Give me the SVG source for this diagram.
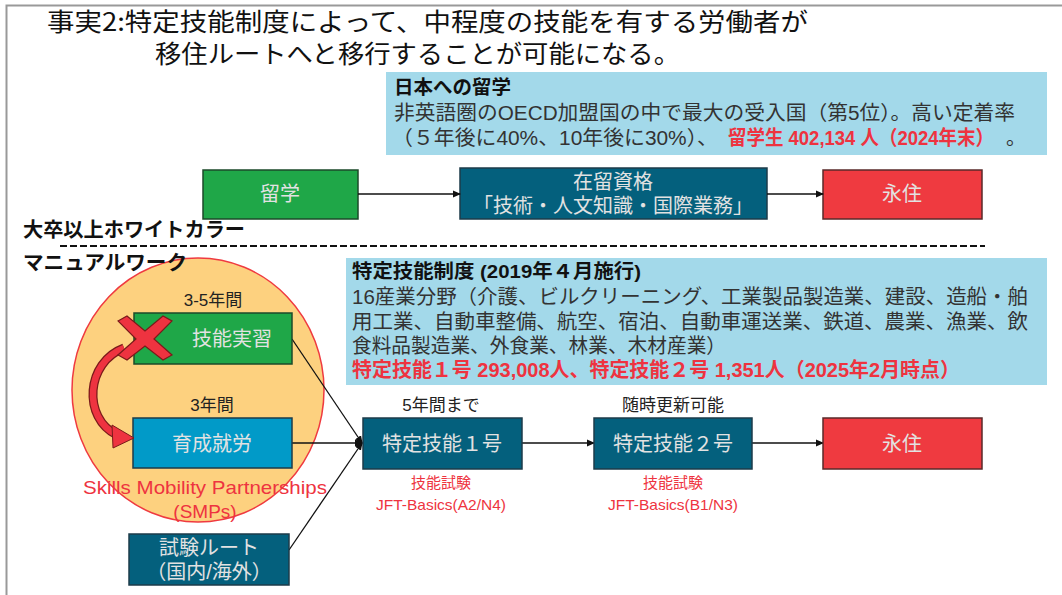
<svg xmlns="http://www.w3.org/2000/svg" width="1062" height="595" viewBox="0 0 1062 595">
<style>
text{font-family:"Liberation Sans","Noto Sans CJK JP",sans-serif}
.jp{font-family:"Noto Sans CJK JP","Liberation Sans",sans-serif}
.title{font-size:25px;fill:#111}
.info{font-size:20px;fill:#333}
.infob{font-size:19px;font-weight:bold;fill:#111}
.red{fill:#ee3340}
.redb{fill:#ee3340;font-weight:bold}
.btxt{font-size:20px;fill:#e2e2e2;text-anchor:middle}
.lbl{font-size:17px;fill:#222;text-anchor:middle}
.rl{font-size:15px;fill:#ee3340;text-anchor:middle}
.teal{fill:#04607d;stroke:#1d3b4a;stroke-width:1.5}
.green{fill:#1fa748;stroke:#1c4a2a;stroke-width:1.5}
.redbox{fill:#ef3a40;stroke:#5a2a2a;stroke-width:1.5}
.blue{fill:#019ac8;stroke:#1d3b4a;stroke-width:1.5}
.con{stroke:#111;stroke-width:1.3;fill:none}
.side{font-size:20px;font-weight:bold;fill:#111}
</style>
<defs>
<marker id="ah" markerWidth="8" markerHeight="8" refX="7" refY="4" orient="auto" markerUnits="userSpaceOnUse"><path d="M0,0.5 L8,4 L0,7.5 z" fill="#111"/></marker>
</defs>
<rect x="0" y="0" width="1062" height="595" fill="#fff"/>
<path d="M6.5,595 V5.5 H1062" fill="none" stroke="#999" stroke-width="2"/>

<g id="title">
<text class="title jp" x="47" y="31" textLength="761" lengthAdjust="spacingAndGlyphs">事実2:特定技能制度によって、中程度の技能を有する労働者が</text>
<text class="title jp" x="155" y="63" textLength="525" lengthAdjust="spacingAndGlyphs">移住ルートへと移行することが可能になる。</text>
</g>

<g id="info-study">
<rect x="386" y="72" width="661" height="83" fill="#a3d9ea"/>
<text class="infob" x="394" y="94" textLength="117" lengthAdjust="spacingAndGlyphs">日本への留学</text>
<text class="info" x="394" y="120" textLength="621" lengthAdjust="spacingAndGlyphs">非英語圏のOECD加盟国の中で最大の受入国（第5位）。高い定着率</text>
<text class="info" x="392" y="145" textLength="326" lengthAdjust="spacingAndGlyphs">（５年後に40%、10年後に30%）、</text>
<text class="info redb" x="728" y="145" textLength="266" lengthAdjust="spacingAndGlyphs">留学生 402,134 人（2024年末）</text>
<text class="info" x="1006" y="145">。</text>
</g>

<g id="n-ryugaku">
<rect class="green" x="203" y="170" width="155" height="49"/>
<text class="btxt" x="280" y="201">留学</text>
</g>
<g id="n-zairyu">
<rect class="teal" x="460" y="168" width="307" height="51"/>
<text class="btxt" x="613" y="189">在留資格</text>
<text class="btxt" x="613" y="213">「技術・人文知識・国際業務」</text>
</g>
<g id="n-eiju1">
<rect class="redbox" x="823" y="170" width="159" height="49"/>
<text class="btxt" x="902" y="201">永住</text>
</g>

<g id="smp">
<ellipse cx="198" cy="390" rx="126" ry="132" fill="#fdd17f" stroke="#ef3a40" stroke-width="1.5"/>
<text class="lbl" x="213" y="306">3-5年間</text>
<text class="lbl" x="212" y="411">3年間</text>
<text x="205" y="494" font-size="19" class="red" text-anchor="middle" textLength="244" lengthAdjust="spacingAndGlyphs">Skills Mobility Partnerships</text>
<text x="205" y="518" font-size="19" class="red" text-anchor="middle">(SMPs)</text>
</g>

<g id="labels-side">
<text class="side" x="23" y="237" textLength="222" lengthAdjust="spacingAndGlyphs">大卒以上ホワイトカラー</text>
<line x1="60" y1="246" x2="985" y2="246" stroke="#111" stroke-width="2.2" stroke-dasharray="7,3"/>
<text class="side" x="23" y="270" textLength="164" lengthAdjust="spacingAndGlyphs">マニュアルワーク</text>
</g>

<g id="connectors">
<line class="con" x1="358" y1="194" x2="460" y2="194" marker-end="url(#ah)"/>
<line class="con" x1="767" y1="194" x2="823" y2="194" marker-end="url(#ah)"/>
<line class="con" x1="292" y1="339" x2="362" y2="443" marker-end="url(#ah)"/>
<line class="con" x1="292" y1="443" x2="362" y2="443" marker-end="url(#ah)"/>
<line class="con" x1="289" y1="550" x2="362" y2="443" marker-end="url(#ah)"/>
<circle cx="359" cy="443" r="3.5" fill="#111"/>
<line class="con" x1="522" y1="443" x2="594" y2="443" marker-end="url(#ah)"/>
<line class="con" x1="752" y1="443" x2="823" y2="443" marker-end="url(#ah)"/>
</g>

<g id="n-ginou-jisshu">
<rect class="green" x="134" y="313" width="158" height="51"/>
<text class="btxt" x="232" y="346">技能実習</text>
</g>
<g id="n-ikusei">
<rect class="blue" x="133" y="418" width="159" height="50"/>
<text class="btxt" x="212" y="451">育成就労</text>
</g>

<g id="cross-arrow">
<path d="M124,348 C86,362 82,418 117,435" fill="none" stroke="#7a1a1a" stroke-width="9"/>
<path d="M124,348 C86,362 82,418 117,435" fill="none" stroke="#ee3340" stroke-width="6.5"/>
<polygon points="112,425 134,438 113,448" fill="#ee3340" stroke="#7a1a1a" stroke-width="1"/>
<g transform="translate(145,339)">
<path d="M-27,-18 L-18,-23 L0,-8 L18,-23 L27,-18 L9,0 L27,16 L18,21 L0,7 L-18,21 L-27,16 L-9,0 Z" fill="#ee3340" stroke="#7a1a1a" stroke-width="1.2"/>
</g>
</g>

<g id="n-shiken">
<rect class="teal" x="129" y="534" width="160" height="51"/>
<text class="btxt" x="209" y="555" font-size="18">試験ルート</text>
<text class="btxt" x="209" y="579" font-size="18">（国内/海外）</text>
</g>

<g id="info-ssw">
<rect x="346" y="258" width="701" height="127" fill="#a3d9ea"/>
<text class="infob" x="352" y="278" textLength="289" lengthAdjust="spacingAndGlyphs">特定技能制度 (2019年４月施行)</text>
<text class="info" x="352" y="304" textLength="676" lengthAdjust="spacingAndGlyphs">16産業分野（介護、ビルクリーニング、工業製品製造業、建設、造船・舶</text>
<text class="info" x="352" y="329" textLength="676" lengthAdjust="spacingAndGlyphs">用工業、自動車整備、航空、宿泊、自動車運送業、鉄道、農業、漁業、飲</text>
<text class="info" x="352" y="353" textLength="374" lengthAdjust="spacingAndGlyphs">食料品製造業、外食業、林業、木材産業）</text>
<text class="info redb" x="352" y="377" textLength="608" lengthAdjust="spacingAndGlyphs">特定技能１号 293,008人、特定技能２号 1,351人（2025年2月時点）</text>
</g>

<g id="n-ssw1">
<text class="lbl" x="441" y="411">5年間まで</text>
<rect class="teal" x="363" y="418" width="159" height="51"/>
<text class="btxt" x="442" y="451">特定技能１号</text>
<text class="rl" x="441" y="488">技能試験</text>
<text class="rl" x="441" y="510" textLength="130" lengthAdjust="spacingAndGlyphs">JFT-Basics(A2/N4)</text>
</g>
<g id="n-ssw2">
<text class="lbl" x="673" y="411">随時更新可能</text>
<rect class="teal" x="594" y="418" width="158" height="51"/>
<text class="btxt" x="673" y="451">特定技能２号</text>
<text class="rl" x="673" y="488">技能試験</text>
<text class="rl" x="673" y="510" textLength="130" lengthAdjust="spacingAndGlyphs">JFT-Basics(B1/N3)</text>
</g>
<g id="n-eiju2">
<rect class="redbox" x="823" y="418" width="159" height="51"/>
<text class="btxt" x="902" y="451">永住</text>
</g>
</svg>
